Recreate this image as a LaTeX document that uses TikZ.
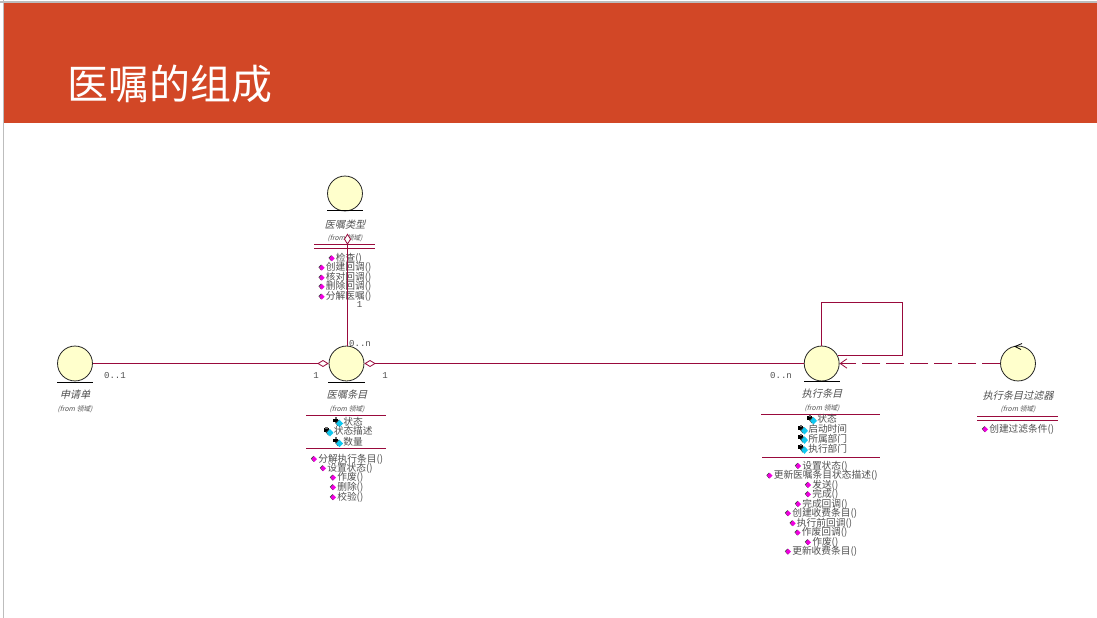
\documentclass[tikz,border=0pt]{standalone}
\usepackage{fontspec}
\setmainfont{Noto Sans CJK SC}
\newfontfamily\cjkslant[FakeSlant=0.25]{Noto Sans CJK SC}
\newfontfamily\multfont{Liberation Mono}
\usetikzlibrary{arrows.meta}
\definecolor{banner}{HTML}{D24726}
\definecolor{umlline}{HTML}{990A3C}
\definecolor{umlfill}{HTML}{FFFFCC}
\definecolor{umltext}{HTML}{505050}
\definecolor{edgegray}{HTML}{BDBDBD}
\definecolor{methodicon}{HTML}{F000E0}
\definecolor{attricon}{HTML}{10C8F0}
\tikzset{
  x=0.75pt,y=-0.75pt,
  classcircle/.style={circle,draw=black!85,fill=umlfill,line width=0.6pt,minimum size=26.2pt,inner sep=0pt},
  base/.style={draw=black,line width=0.75pt},
  sep/.style={draw=umlline,line width=0.75pt},
  assoc/.style={draw=umlline,line width=0.75pt},
  agg/.style={assoc,{Diamond[open,fill=white,length=8.5pt,width=5.2pt,line width=0.6pt]}-},
  depend/.style={assoc,dash pattern=on 13.5pt off 4.5pt,-{Straight Barb[length=5pt,width=7pt,line width=0.6pt]}},
  cname/.style={font=\cjkslant\fontsize{7.6pt}{8pt}\selectfont,text=umltext,inner sep=0pt},
  cfrom/.style={font=\cjkslant\fontsize{5.1pt}{6pt}\selectfont,text=umltext,inner sep=0pt},
  member/.style={font=\fontsize{7.3pt}{8pt}\selectfont,text=umltext,inner sep=0pt,anchor=west},
  mult/.style={font=\multfont\fontsize{6.8pt}{7pt}\selectfont,text=umltext,inner sep=0pt},
  title/.style={font=\fontsize{30.7pt}{34pt}\selectfont,text=white,inner sep=0pt,anchor=west},
}
\newcount\rowno
\newcommand{\mth}[3]{% icon x, y, text
  \global\advance\rowno by 1
  \node[member] (row\the\rowno) at (#1+4,#2) {#3};
  \fill[black!75] (#1-3.2,#2-.5) -- (#1-.5,#2-3.2) -- (#1+1,#2) -- (#1-.5,#2+2.8) -- cycle;
  \fill[methodicon] (#1-2.4,#2) -- (#1+.2,#2-2.8) -- (#1+3,#2) -- (#1+.2,#2+2.8) -- cycle;}
\newcommand{\attr}[3]{% icon x, y, text
  \global\advance\rowno by 1
  \node[member] (row\the\rowno) at (#1+6,#2) {#3};
  \fill[black] (#1-4,#2-3) rectangle (#1+1,#2+.5);
  \fill[black!60] (#1-2.5,#2-4.5) rectangle (#1,#2-2.5);
  \fill[black!80] (#1-2,#2+1) -- (#1+2,#2-2) -- (#1+1,#2+4.5) -- cycle;
  \fill[attricon] (#1-.8,#2+1.8) -- (#1+2.5,#2-2) -- (#1+6,#2+1.8) -- (#1+2.5,#2+5.5) -- cycle;}
\begin{document}
\begin{tikzpicture}
\useasboundingbox (0,0) rectangle (1097,618);
\fill[white] (0,0) rectangle (1097,618);
\fill[edgegray] (0,1) rectangle (1097,2.5);
\fill[edgegray] (2.5,0) rectangle (3.8,618);
\fill[banner] (3.8,2.5) rectangle (1097,123);
\node[title] (ttl) at (67.5,84) {医嘱的组成};

% class circles
\node[classcircle] (type) at (345,193.5) {};
\node[classcircle] (req) at (75,363.5) {};
\node[classcircle] (item) at (346.5,363.5) {};
\node[classcircle] (exec) at (821.7,363.5) {};
\node[classcircle] (filter) at (1018,363.5) {};
% base lines
\draw[base] (327,210.5) -- (363,210.5);
\draw[base] (57,382) -- (93,382);
\draw[base] (328,382) -- (365,382);
\draw[base] (804,381) -- (840,381);
% control-class mark
\draw[black,line width=0.6pt] (1022,343.5) -- (1015,346.5) -- (1021,349.5);

% names
\node[cname] (typeN) at (345,224.5) {医嘱类型};
\node[cfrom] (typeF) at (345,238) {(from 领域)};
\node[cname] (reqN) at (75,395) {申请单};
\node[cfrom] (reqF) at (75,409) {(from 领域)};
\node[cname] (itemN) at (347,395) {医嘱条目};
\node[cfrom] (itemF) at (347,409) {(from 领域)};
\node[cname] (execN) at (822,394) {执行条目};
\node[cfrom] (execF) at (822,408) {(from 领域)};
\node[cname] (filterN) at (1018,395.5) {执行条目过滤器};
\node[cfrom] (filterF) at (1018,409) {(from 领域)};

% compartments
\draw[sep] (314,244.7) -- (375,244.7) (314,248.3) -- (375,248.3);
\draw[sep] (306,415) -- (386,415) (306,448.5) -- (386,448.5);
\draw[sep] (761,414.5) -- (880,414.5) (762,457.5) -- (880,457.5);
\draw[sep] (977,416) -- (1058,416) (977,420) -- (1058,420);

% members: type
\mth{331.7}{258.3}{检查()}
\mth{321.7}{267.7}{创建回调()}
\mth{321.7}{277.7}{核对回调()}
\mth{321.7}{286.7}{删除回调()}
\mth{321.7}{296.7}{分解医嘱()}
% members: item
\attr{337}{421.7}{状态}
\attr{327.5}{431}{状态描述}
\attr{337}{441.7}{数量}
\mth{314}{459}{分解执行条目()}
\mth{323}{468.3}{设置状态()}
\mth{333}{477.7}{作废()}
\mth{333}{487.3}{删除()}
\mth{333}{497.3}{校验()}
% members: exec
\attr{811}{419}{状态}
\attr{802}{429}{启动时间}
\attr{802}{438.3}{所属部门}
\attr{802}{448.3}{执行部门}
\mth{798}{466}{设置状态()}
\mth{769.5}{475.7}{更新医嘱条目状态描述()}
\mth{808}{485}{发送()}
\mth{808}{494.3}{完成()}
\mth{798}{504}{完成回调()}
\mth{788}{513.3}{创建收费条目()}
\mth{792.7}{523.3}{执行前回调()}
\mth{797.7}{532.7}{作废回调()}
\mth{808}{542.3}{作废()}
\mth{788}{551.7}{更新收费条目()}
% members: filter
\mth{985}{429.3}{创建过滤条件()}

% connectors
\coordinate (typeEnd) at (347.5,233.5);
\coordinate (itemTop) at (347.5,346);
\coordinate (loopA) at (821.7,302.5);
\coordinate (loopB) at (902.5,302.5);
\coordinate (loopC) at (902.5,355.5);
\coordinate (loopD) at (838,355.5);
\draw[agg] (typeEnd) -- (itemTop);
\draw[agg] (item.west) -- (req.east);
\draw[agg] (item.east) -- (exec.west);
\draw[assoc] (exec.north) -- (loopA) -- (loopB) -- (loopC) -- (loopD);
\draw[depend] (filter.west) -- (exec.east);

% multiplicities
\node[mult] (m1) at (359.5,305) {1};
\node[mult] (m2) at (360,343.5) {0..n};
\node[mult] (m3) at (115,375.7) {0..1};
\node[mult] (m4) at (316,376) {1};
\node[mult] (m5) at (385,375.7) {1};
\node[mult] (m6) at (781,376) {0..n};
\end{tikzpicture}
\end{document}
